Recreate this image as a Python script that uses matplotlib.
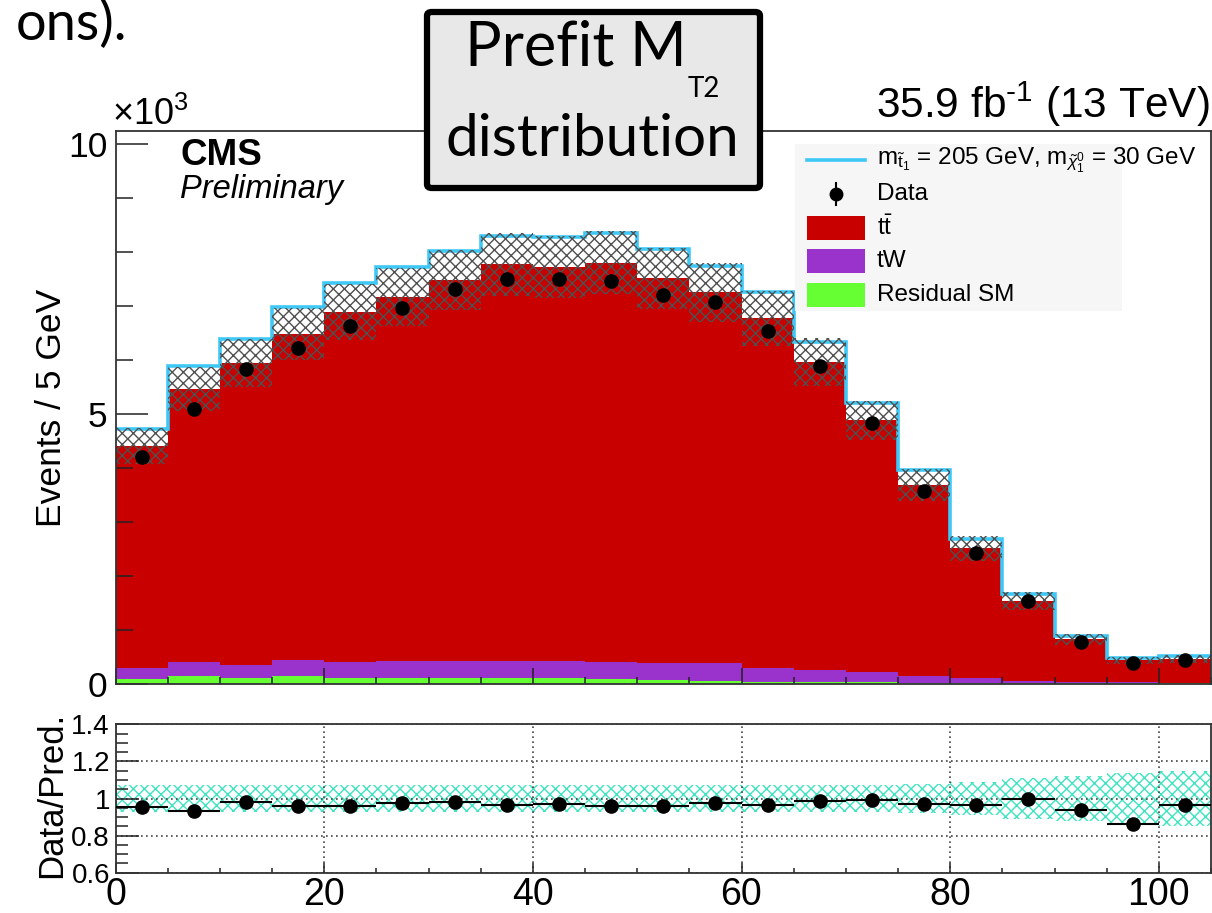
import numpy as np
import matplotlib
matplotlib.use("Agg")
import matplotlib.pyplot as plt
from matplotlib.patches import Rectangle, FancyBboxPatch
from matplotlib.lines import Line2D
from matplotlib.ticker import MultipleLocator, FuncFormatter

plt.rcParams["font.family"] = ["Liberation Sans", "DejaVu Sans"]
plt.rcParams["mathtext.fontset"] = "custom"
plt.rcParams["mathtext.rm"] = "Liberation Sans"
plt.rcParams["mathtext.it"] = "Liberation Sans:italic"
plt.rcParams["mathtext.bf"] = "Liberation Sans:bold"
plt.rcParams["hatch.linewidth"] = 1.0

# ---- binning (GeV) ----
mt2_edges = np.arange(0, 110, 5)

# ---- event yields per bin, in units of 10^3 events ----
ttbar = np.array([4.12, 5.06, 5.59, 6.04, 6.49, 6.73, 7.05, 7.34, 7.29, 7.40, 7.13,
                  6.87, 6.48, 5.70, 4.65, 3.54, 2.39, 1.48, 0.79, 0.41, 0.44])
tw = np.array([0.20, 0.25, 0.23, 0.29, 0.28, 0.31, 0.31, 0.31, 0.31, 0.31, 0.30,
               0.32, 0.25, 0.22, 0.20, 0.13, 0.10, 0.05, 0.03, 0.02, 0.01])
residual_sm = np.array([0.09, 0.15, 0.12, 0.15, 0.12, 0.12, 0.12, 0.12, 0.12, 0.09, 0.08,
                        0.06, 0.04, 0.04, 0.03, 0.02, 0.02, 0.01, 0.01, 0.01, 0.01])
signal = np.array([0.32, 0.42, 0.45, 0.50, 0.53, 0.56, 0.53, 0.53, 0.55, 0.56, 0.54,
                   0.49, 0.48, 0.38, 0.32, 0.27, 0.18, 0.12, 0.06, 0.04, 0.06])
data = np.array([4.20, 5.10, 5.83, 6.22, 6.62, 6.97, 7.32, 7.50, 7.50, 7.47, 7.20,
                 7.08, 6.54, 5.89, 4.84, 3.58, 2.42, 1.54, 0.78, 0.38, 0.445])
# relative uncertainty on the total background prediction
bkg_rel_unc = np.array([0.075, 0.075, 0.075, 0.075, 0.075, 0.075, 0.075, 0.075, 0.075, 0.075, 0.075,
                        0.075, 0.075, 0.075, 0.075, 0.08, 0.09, 0.11, 0.12, 0.14, 0.15])

c_tt = "#c80000"
c_tw = "#9933cc"
c_res = "#66ff33"
c_sig = "#3ec8f5"
c_band = "#3fe3c0"

W, H = 1212, 913
fig = plt.figure(figsize=(W / 100, H / 100), dpi=100)


def fx(px):
    return px / W


def fy(py):
    return 1 - py / H


ax = fig.add_axes([fx(115.5), fy(684), fx(1211) - fx(115.5), fy(131) - fy(684)])
ax2 = fig.add_axes([fx(115.5), fy(872.7), fx(1211) - fx(115.5), fy(724.3) - fy(872.7)])

centers = 0.5 * (mt2_edges[:-1] + mt2_edges[1:])
halfw = 0.5 * np.diff(mt2_edges)

# ---- stacked backgrounds ----
lvl1 = residual_sm
lvl2 = residual_sm + tw
total = residual_sm + tw + ttbar
ax.stairs(lvl1, mt2_edges, baseline=0, fill=True, color=c_res, lw=0, zorder=1)
ax.stairs(lvl2, mt2_edges, baseline=lvl1, fill=True, color=c_tw, lw=0, zorder=1)
ax.stairs(total, mt2_edges, baseline=lvl2, fill=True, color=c_tt, lw=0, zorder=1)

# ---- signal stacked on top ----
ax.stairs(total + signal, mt2_edges, baseline=total, fill=True, color="white", lw=0, zorder=1.2)
ax.stairs(total + signal, mt2_edges, baseline=None, color=c_sig, lw=2.6, zorder=1.5)

# ---- background uncertainty band ----
unc = total * bkg_rel_unc
ax.stairs(total + unc, mt2_edges, baseline=total - unc, fill=True, facecolor="none",
          edgecolor="#505050", hatch="xxx", lw=0, zorder=2)

# ---- data ----
ax.plot(centers, data, "o", color="black", ms=9.5, zorder=4)

ax.set_xlim(0, 105)
ax.set_ylim(0, 10.24)
ax.xaxis.set_major_locator(MultipleLocator(20))
ax.xaxis.set_minor_locator(MultipleLocator(5))
ax.yaxis.set_major_locator(MultipleLocator(5))
ax.yaxis.set_minor_locator(MultipleLocator(1))
ax.tick_params(axis="x", which="both", direction="in", labelbottom=False, width=1.1, color="#222")
ax.tick_params(axis="x", which="major", length=11.5)
ax.tick_params(axis="x", which="minor", length=5)
ax.tick_params(axis="y", which="both", direction="in", width=1.1, color="#222")
ax.tick_params(axis="y", which="major", length=23, labelsize=25.5, pad=6)
ax.tick_params(axis="y", which="minor", length=12)
for sp in ax.spines.values():
    sp.set_linewidth(1.3)
    sp.set_color("#333")

# ---- ratio panel ----
ratio = data / total
ax2.stairs(1 + bkg_rel_unc, mt2_edges, baseline=1 - bkg_rel_unc, fill=True, facecolor="none",
           edgecolor=c_band, hatch="xxx", lw=0, zorder=1)
ax2.errorbar(centers, ratio, xerr=halfw, fmt="o", color="black", ms=9.5, elinewidth=1.5,
             capsize=0, zorder=4)
ax2.set_xlim(0, 105)
ax2.set_ylim(0.6, 1.4)
ax2.xaxis.set_major_locator(MultipleLocator(20))
ax2.xaxis.set_minor_locator(MultipleLocator(5))
ax2.yaxis.set_major_locator(MultipleLocator(0.2))
ax2.yaxis.set_minor_locator(MultipleLocator(0.05))
ax2.yaxis.set_major_formatter(FuncFormatter(lambda v, p: "%g" % round(v, 2)))
ax2.grid(True, which="major", linestyle=(0, (1, 2)), color="#444", lw=1.2, zorder=0)
ax2.tick_params(axis="x", which="both", direction="in", width=1.1, color="#222")
ax2.tick_params(axis="x", which="major", length=7, labelsize=27, pad=3)
ax2.tick_params(axis="x", which="minor", length=3.6)
ax2.tick_params(axis="y", which="both", direction="in", width=1.1, color="#222")
ax2.tick_params(axis="y", which="major", length=16.5, labelsize=20, pad=4)
ax2.tick_params(axis="y", which="minor", length=8.6)
for sp in ax2.spines.values():
    sp.set_linewidth(1.3)
    sp.set_color("#333")

# ---- axis titles ----
fig.text(fx(52), fy(408), "Events / 5 GeV", rotation=90, ha="center", va="center", fontsize=25.5)
fig.text(fx(52), fy(795), "Data/Pred.", rotation=90, ha="center", va="center", fontsize=25)
fig.text(fx(112), fy(125), "×10$^{3}$", ha="left", va="baseline", fontsize=26)
fig.text(fx(1210), fy(118), r"35.9 fb$^{\text{-1}}$ (13 TeV)", ha="right", va="baseline", fontsize=30.5)
fig.text(fx(180), fy(165), "CMS", ha="left", va="baseline", fontsize=26.5, fontweight="bold")
fig.text(fx(180), fy(198), "Preliminary", ha="left", va="baseline", fontsize=23.5, fontstyle="italic")

# ---- legend ----
fig.add_artist(Rectangle((fx(795), fy(311)), fx(1122) - fx(795), fy(144) - fy(311),
                         transform=fig.transFigure, facecolor="#f6f6f6", edgecolor="none", zorder=1))
hx0, hx1, tx = 807, 865, 877
rows = [160, 194, 228, 261, 295]
fig.add_artist(Line2D([fx(hx0), fx(hx1)], [fy(rows[0])] * 2, transform=fig.transFigure,
                      color=c_sig, lw=2.6, zorder=2))
fig.add_artist(Line2D([fx(836)] * 2, [fy(rows[1] - 11), fy(rows[1] + 11)], transform=fig.transFigure,
                      color="black", lw=1.5, zorder=2))
fig.add_artist(Line2D([fx(836)], [fy(rows[1])], transform=fig.transFigure, marker="o", ms=9,
                      color="black", zorder=2))
for r, col in zip(rows[2:], [c_tt, c_tw, c_res]):
    fig.add_artist(Rectangle((fx(hx0), fy(r + 12)), fx(hx1) - fx(hx0), fy(r - 12) - fy(r + 12),
                             transform=fig.transFigure, facecolor=col, edgecolor="none", zorder=2))
labels = [r"m$_{\tilde{\mathrm{t}}_{1}}$ = 205 GeV, m$_{\tilde{\chi}^{0}_{1}}$ = 30 GeV",
          "Data", r"t$\bar{\mathrm{t}}$", "tW", "Residual SM"]
for r, lab in zip(rows, labels):
    fig.text(fx(tx), fy(r), lab, ha="left", va="center", fontsize=17.5, zorder=3)

# ---- slide overlay: caption box and text fragment ----
fig.add_artist(FancyBboxPatch((fx(427), fy(188)), fx(760) - fx(427), fy(12) - fy(188),
                              boxstyle="round,pad=0,rounding_size=0.004", transform=fig.transFigure,
                              facecolor="#e8e8e8", edgecolor="black", lw=4.5, zorder=5))
fig.text(fx(687), fy(65), "Prefit M", ha="right", va="baseline", fontsize=44, family="Lato", zorder=6)
fig.text(fx(688), fy(97), "T2", ha="left", va="baseline", fontsize=20, family="Lato", zorder=6)
fig.text(fx(592), fy(156), "distribution", ha="center", va="baseline", fontsize=42, family="Lato", zorder=6)
fig.text(fx(16), fy(40), "ons).", ha="left", va="baseline", fontsize=39, family="Lato", zorder=6)

fig.savefig("out.png", dpi=100)
